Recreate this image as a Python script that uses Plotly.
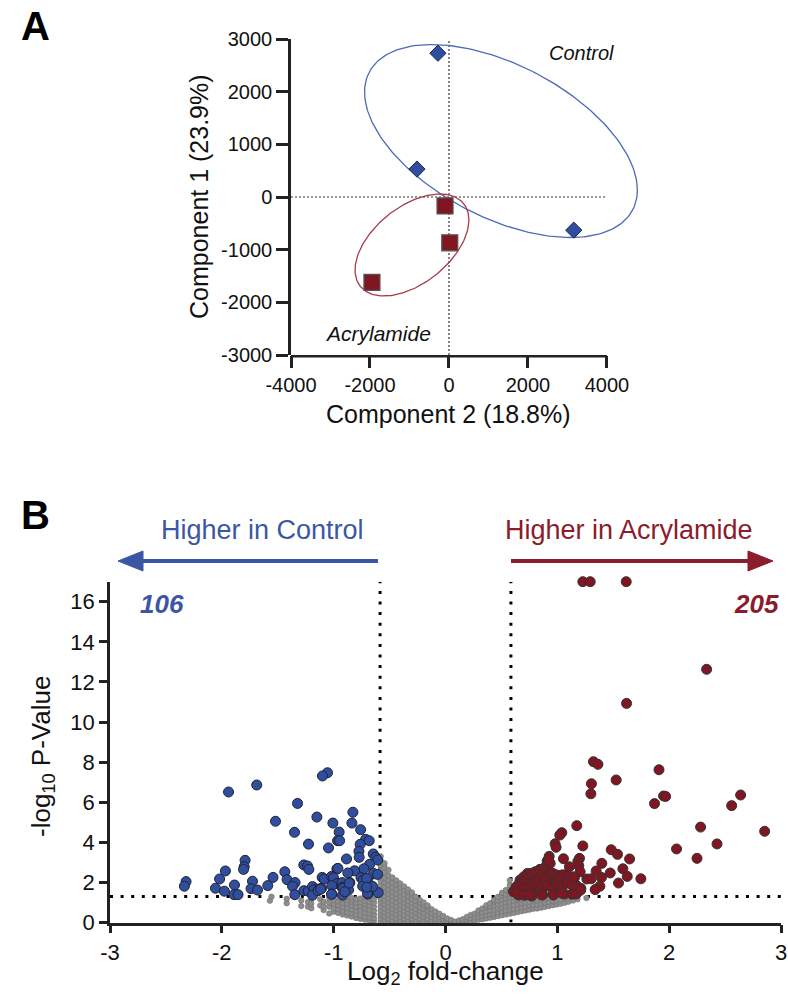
import numpy as np
import plotly.graph_objects as go

W, H = 788, 997
FONT = "Liberation Sans, Arial, sans-serif"
def px(x): return x / W
def py(y): return 1 - y / H

# ---------------- Panel A data (PCA scores) ----------------
ctrl_pc2 = [-280, -810, 3160]
ctrl_pc1 = [2730, 530, -630]
acr_pc2 = [-100, 20, -1950]
acr_pc1 = [-170, -870, -1620]
pca_xticks = [-4000, -2000, 0, 2000, 4000]
pca_yticks = [-3000, -2000, -1000, 0, 1000, 2000, 3000]
# group ellipses: centre, half extents, correlation
ctrl_ellipse = dict(cx=1316, cy=1063, ax=3454, ay=1832, rho=-0.508)
acr_ellipse = dict(cx=-937, cy=-911, ax=1442, ay=968, rho=0.49)

# ---------------- Panel B data (volcano) ----------------
blue_x = [-1.055, -1.10, -1.688, -1.94, -1.323, -0.828, -1.15, -1.52, -1.007, -0.837,
          -1.35, -0.951, -0.759, -1.225, -0.965, -0.947, -0.714, -0.682, -0.763, -1.046,
          -0.774, -0.646, -0.772, -0.625, -0.607, -0.885, -0.679, -1.792, -1.80, -1.806,
          -1.267, -1.234, -1.222, -0.971, -0.962, -0.73, -0.813, -0.873, -0.643, -0.607,
          -1.968, -1.437, -2.02, -1.542, -1.417, -2.32, -2.335, -1.726, -1.345, -1.368,
          -1.103, -1.085, -1.019, -1.001, -0.971, -0.924, -0.855, -0.756, -0.736, -0.697,
          -1.016, -0.924, -0.876, -0.867, -0.741, -1.267, -1.228, -1.189, -1.175, -1.13,
          -1.108, -1.347, -1.189, -1.016, -0.920, -0.694, -2.057, -1.977, -1.887, -1.891,
          -1.855, -1.739, -1.681, -1.589, -0.697, -0.602, -1.019, -0.915, -0.90, -0.861,
          -0.705, -0.652, -0.705, -1.139, -1.117]
blue_y = [7.47, 7.31, 6.86, 6.51, 5.94, 5.50, 5.26, 5.05, 4.96, 4.96,
          4.50, 4.51, 4.63, 3.91, 4.08, 4.08, 4.15, 4.08, 3.90, 3.72,
          3.55, 3.42, 3.25, 3.25, 3.12, 3.17, 2.90, 3.10, 2.78, 2.65,
          2.87, 2.82, 2.65, 2.67, 2.70, 2.68, 2.58, 2.47, 2.45, 2.40,
          2.57, 2.53, 2.17, 2.25, 2.14, 2.04, 1.81, 2.06, 1.99, 1.81,
          2.25, 2.17, 2.30, 2.23, 1.94, 1.99, 1.99, 2.24, 2.12, 2.10,
          1.84, 1.74, 1.71, 1.62, 1.81, 1.59, 1.57, 1.79, 1.64, 1.67,
          1.71, 1.39, 1.36, 1.42, 1.37, 1.42, 1.71, 1.56, 1.87, 1.39,
          1.39, 1.69, 1.62, 1.84, 1.46, 1.49, 1.41, 1.71, 1.54, 1.96,
          2.20, 1.79, 1.76, 1.59, 1.66]

red_x = [1.228, 1.294, 1.616, 2.335, 1.619, 1.323, 1.363, 1.909, 1.526, 1.305,
         1.30, 1.95, 1.968, 2.639, 1.869, 2.559, 1.174, 2.281, 2.854, 1.04,
         1.022, 1.228, 0.980, 0.989, 2.428, 2.066, 1.482, 1.538, 1.646, 2.249,
         0.927, 0.909, 1.055, 1.198, 1.184, 1.398, 1.108, 1.192, 0.843, 0.903,
         0.915, 1.204, 1.347, 1.586, 1.473, 1.395, 1.625, 1.747, 1.547, 1.264,
         1.303, 1.381, 1.338, 0.733, 0.70, 0.667, 0.786, 0.816, 0.757, 0.712,
         0.90, 0.951, 0.960, 1.04, 1.07, 1.094, 1.153, 0.936, 0.996, 1.04,
         0.876, 0.831, 0.757, 0.631, 0.661, 0.607, 0.652, 0.712, 0.772, 0.870,
         0.965, 1.004, 1.064, 1.13, 1.166, 1.174, 1.21,
         0.637, 0.667, 0.697, 0.727, 0.742, 0.772, 0.801, 0.846, 0.876, 0.906,
         0.936, 0.921, 0.703, 0.757, 0.786, 0.816, 0.846, 0.870, 0.891, 0.936,
         0.960, 0.996, 1.025, 1.055, 1.100, 1.144, 0.861, 0.906, 0.951, 0.996,
         1.040, 1.085, 1.130, 1.174, 0.637, 0.697, 0.757, 0.861, 0.965, 1.040,
         1.130, 1.168, 1.210]
red_y = [17.0, 17.0, 17.0, 12.63, 10.93, 8.02, 7.89, 7.62, 7.11, 6.92,
         6.42, 6.31, 6.29, 6.36, 5.93, 5.83, 4.83, 4.76, 4.55, 4.48,
         4.36, 3.82, 3.93, 3.75, 3.92, 3.67, 3.63, 3.40, 3.17, 3.20,
         3.30, 3.07, 3.18, 3.20, 3.05, 2.95, 2.78, 2.83, 2.65, 2.68,
         2.83, 2.53, 2.57, 2.68, 2.47, 2.25, 2.30, 2.18, 1.97, 2.17,
         2.18, 1.81, 1.64, 2.45, 2.28, 2.12, 2.37, 2.20, 2.04, 1.91,
         2.37, 2.45, 2.12, 2.37, 2.37, 2.28, 2.25, 1.96, 2.04, 1.87,
         1.76, 1.59, 1.76, 1.76, 1.96, 1.54, 1.37, 1.37, 1.32, 1.39,
         1.41, 1.59, 1.42, 1.42, 1.87, 1.46, 1.71,
         1.79, 1.92, 2.04, 2.20, 2.37, 2.45, 2.53, 2.62, 2.70, 2.82,
         2.95, 3.12, 1.71, 1.79, 1.96, 2.12, 2.28, 2.37, 2.20, 2.37,
         2.45, 2.37, 2.28, 2.37, 2.28, 2.28, 1.79, 1.87, 1.71, 1.87,
         1.79, 1.96, 1.87, 1.79, 1.46, 1.37, 1.37, 1.37, 1.37, 1.46,
         1.42, 1.42, 1.62]

# non-significant proteins, read column by column: (log2 FC, [-log10 p ...])
gray_columns = [
    (-1.57, [1.09]), (-1.556, [1.29]), (-1.42, [0.96, 1.18]), (-1.29, [0.82, 1.10]),
    (-1.23, [0.79, 1.02]), (-1.20, [0.71, 0.95, 1.20]), (-1.12, [0.85, 1.16]),
    (-1.09, [0.62, 0.80, 1.04]), (-1.04, [0.45, 0.79, 1.00, 1.22]),
    (-1.00, [0.54, 0.70, 0.92, 1.12]), (-0.96, [0.48, 0.66, 0.87, 1.05, 1.25]),
    (-0.92, [0.40, 0.58, 0.78, 0.98, 1.18]), (-0.88, [0.35, 0.52, 0.72, 0.96, 1.12, 1.28]),
    (-0.84, [0.30, 0.48, 0.66, 0.86, 1.04, 1.22]), (-0.80, [0.22, 0.40, 0.58, 0.79, 0.98, 1.16]),
    (-0.76, [0.18, 0.36, 0.62, 0.82, 1.00, 1.20]), (-0.72, [0.14, 0.30, 0.50, 0.70, 0.92, 1.10, 1.26]),
    (-0.68, [0.10, 0.26, 0.44, 0.64, 0.84, 1.04, 1.22]),
    (-0.64, [0.08, 0.22, 0.40, 0.58, 0.78, 0.98, 1.16, 1.34, 1.60, 1.90, 2.30]),
    (-0.58, [0.05, 0.22, 0.40, 0.60, 0.80, 1.00, 1.20, 1.42, 1.64, 1.86, 2.10, 2.35, 2.60, 2.85, 3.10, 3.30]),
    (-0.545, [0.12, 0.30, 0.50, 0.70, 0.90, 1.10, 1.32, 1.54, 1.76, 2.00, 2.24, 2.48, 2.75, 2.95]),
    (-0.51, [0.04, 0.20, 0.40, 0.60, 0.80, 1.00, 1.20, 1.42, 1.64, 1.88, 2.10, 2.34, 2.62]),
    (-0.475, [0.10, 0.30, 0.50, 0.70, 0.90, 1.10, 1.32, 1.54, 1.76, 1.98, 2.25]),
    (-0.44, [0.02, 0.20, 0.40, 0.60, 0.80, 1.00, 1.22, 1.44, 1.66, 1.90, 2.10]),
    (-0.405, [0.08, 0.28, 0.48, 0.68, 0.88, 1.08, 1.30, 1.52, 1.76, 1.95]),
    (-0.37, [0.02, 0.18, 0.38, 0.58, 0.78, 0.98, 1.18, 1.40, 1.62, 1.80]),
    (-0.335, [0.08, 0.28, 0.48, 0.68, 0.88, 1.08, 1.30, 1.52, 1.65]),
    (-0.30, [0.02, 0.18, 0.38, 0.58, 0.78, 0.98, 1.18, 1.38, 1.50]),
    (-0.265, [0.08, 0.28, 0.48, 0.68, 0.88, 1.08, 1.28]),
    (-0.23, [0.02, 0.18, 0.38, 0.58, 0.78, 0.98, 1.12]),
    (-0.195, [0.08, 0.28, 0.48, 0.68, 0.88, 1.00]),
    (-0.16, [0.02, 0.18, 0.38, 0.58, 0.78, 0.85]),
    (-0.125, [0.08, 0.28, 0.48, 0.66]), (-0.09, [0.02, 0.18, 0.38, 0.55]),
    (-0.055, [0.08, 0.26, 0.44]), (-0.02, [0.02, 0.16, 0.32]), (0.015, [0.06, 0.20]),
    (0.05, [0.02, 0.12]), (0.085, [0.04]), (0.12, [0.02, 0.10]), (0.155, [0.04, 0.16]),
    (0.19, [0.02, 0.14, 0.28]), (0.225, [0.08, 0.22, 0.38]), (0.26, [0.10, 0.26, 0.44]),
    (0.295, [0.14, 0.30, 0.48, 0.60]), (0.33, [0.16, 0.34, 0.52, 0.70]),
    (0.365, [0.20, 0.38, 0.56, 0.76, 0.86]), (0.40, [0.24, 0.42, 0.60, 0.80, 0.96]),
    (0.435, [0.28, 0.46, 0.64, 0.84, 1.04, 1.12]), (0.47, [0.32, 0.50, 0.70, 0.90, 1.10, 1.28]),
    (0.505, [0.36, 0.55, 0.75, 0.95, 1.15, 1.35, 1.48]),
    (0.54, [0.40, 0.60, 0.80, 1.00, 1.20, 1.40, 1.62]),
    (0.575, [0.44, 0.64, 0.84, 1.04, 1.24, 1.44, 1.66, 1.86, 2.10]),
    (0.61, [0.48, 0.68, 0.88, 1.08, 1.26]), (0.645, [0.52, 0.72, 0.92, 1.12, 1.28]),
    (0.68, [0.56, 0.76, 0.96, 1.16]), (0.715, [0.60, 0.80, 1.00, 1.20]),
    (0.75, [0.64, 0.84, 1.04, 1.24]), (0.785, [0.68, 0.88, 1.08, 1.26]),
    (0.82, [0.70, 0.90, 1.10, 1.28]), (0.855, [0.74, 0.94, 1.14]), (0.89, [0.78, 0.98, 1.18]),
    (0.925, [0.82, 1.02, 1.22]), (0.96, [0.86, 1.06, 1.24]), (0.995, [0.90, 1.10]),
    (1.03, [0.94, 1.14]), (1.065, [0.98, 1.18]), (1.10, [1.04, 1.22]), (1.14, [1.10]),
    (1.18, [1.16]), (1.26, [1.22]),
]
gray_x = [c for c, ys in gray_columns for _ in ys]
gray_y = [v for c, ys in gray_columns for v in ys]

fc_cut = 0.585      # log2(1.5)
p_cut = 1.301       # -log10(0.05)
volc_xticks = [-3, -2, -1, 0, 1, 2, 3]
volc_yticks = [0, 2, 4, 6, 8, 10, 12, 14, 16]
n_control, n_acryl = 106, 205

# ---------------- colours ----------------
BLUE = "#2F4E9E"
RED = "#7F1621"
BLUE_T = "#3C56A6"
RED_T = "#8A1C2B"
AX = "#222222"

def ellipse(e, n=240):
    t = np.linspace(0, 2 * np.pi, n)
    phi = np.arccos(e["rho"])
    return e["cx"] + e["ax"] * np.cos(t), e["cy"] + e["ay"] * np.cos(t - phi)

fig = go.Figure()
ex, ey = ellipse(ctrl_ellipse)
fig.add_trace(go.Scatter(x=ex, y=ey, mode="lines", line=dict(color="#4A6CB6", width=1.3),
                         xaxis="x", yaxis="y", hoverinfo="skip"))
ex, ey = ellipse(acr_ellipse)
fig.add_trace(go.Scatter(x=ex, y=ey, mode="lines", line=dict(color="#A83B47", width=1.3),
                         xaxis="x", yaxis="y", hoverinfo="skip"))
fig.add_trace(go.Scatter(x=ctrl_pc2, y=ctrl_pc1, mode="markers", xaxis="x", yaxis="y",
                         marker=dict(symbol="diamond", size=12.5, color=BLUE,
                                     line=dict(color="#1C2850", width=1))))
fig.add_trace(go.Scatter(x=acr_pc2, y=acr_pc1, mode="markers", xaxis="x", yaxis="y",
                         marker=dict(symbol="square", size=16, color=RED,
                                     line=dict(color="#555555", width=1.2))))

fig.add_trace(go.Scatter(x=gray_x, y=gray_y, mode="markers", xaxis="x2", yaxis="y2",
                         cliponaxis=False,
                         marker=dict(size=5.5, color="#8E8E8E", line=dict(color="#6E6E6E", width=0.6))))
fig.add_trace(go.Scatter(x=blue_x, y=blue_y, mode="markers", xaxis="x2", yaxis="y2",
                         cliponaxis=False,
                         marker=dict(size=10, color=BLUE, line=dict(color="#222233", width=1))))
fig.add_trace(go.Scatter(x=red_x, y=red_y, mode="markers", xaxis="x2", yaxis="y2",
                         cliponaxis=False,
                         marker=dict(size=10, color=RED, line=dict(color="#333333", width=1))))

A_bottom = 1 - 355 / H
shapes = [
    # panel A zero lines
    dict(type="line", xref="x", yref="y", x0=pca_xticks[0], x1=pca_xticks[-1], y0=0, y1=0,
         line=dict(color="#333", width=1.2, dash="2px,2px"), layer="below"),
    dict(type="line", xref="x", yref="y", x0=0, x1=0, y0=pca_yticks[0], y1=pca_yticks[-1],
         line=dict(color="#333", width=1.2, dash="2px,2px"), layer="below"),
    # panel A x axis line (stops at 4000)
    dict(type="line", xref="x", yref="paper", x0=pca_xticks[0], x1=pca_xticks[-1],
         y0=A_bottom - 1.25 / H, y1=A_bottom - 1.25 / H, line=dict(color=AX, width=2.5)),
    # panel B thresholds
    dict(type="line", xref="x2", yref="y2", x0=-fc_cut, x1=-fc_cut, y0=0, y1=17,
         line=dict(color="black", width=3, dash="3px,7.6px"), layer="below"),
    dict(type="line", xref="x2", yref="y2", x0=fc_cut, x1=fc_cut, y0=0, y1=17,
         line=dict(color="black", width=3, dash="3px,7.6px"), layer="below"),
    dict(type="line", xref="x2", yref="y2", x0=-3, x1=3, y0=p_cut, y1=p_cut,
         line=dict(color="black", width=3, dash="3px,7.6px"), layer="below"),
    # arrows
    dict(type="line", xref="paper", yref="paper", x0=px(378), x1=px(138), y0=py(561), y1=py(561),
         line=dict(color=BLUE_T, width=4)),
    dict(type="path", xref="paper", yref="paper",
         path=f"M {px(118)} {py(561)} L {px(143)} {py(551)} L {px(143)} {py(571)} Z",
         fillcolor=BLUE_T, line=dict(color=BLUE_T, width=1)),
    dict(type="line", xref="paper", yref="paper", x0=px(511), x1=px(753), y0=py(561), y1=py(561),
         line=dict(color=RED_T, width=4)),
    dict(type="path", xref="paper", yref="paper",
         path=f"M {px(773)} {py(561)} L {px(748)} {py(551)} L {px(748)} {py(571)} Z",
         fillcolor=RED_T, line=dict(color=RED_T, width=1)),
]

def ann(text, x, y, size, color="#111", angle=0, xanchor="center"):
    return dict(text=text, x=px(x), y=py(y), xref="paper", yref="paper", showarrow=False,
                xanchor=xanchor, yanchor="middle", textangle=angle,
                font=dict(family=FONT, size=size, color=color))

annotations = [
    ann("<b>A</b>", 35, 26, 40, "#000"),
    ann("<b>B</b>", 35, 515, 40, "#000"),
    ann("<i>Control</i>", 581, 53, 20),
    ann("<i>Acrylamide</i>", 378, 334, 21),
    ann("Component 2 (18.8%)", 449, 414, 25),
    ann("Component 1 (23.9%)", 199, 197, 25, angle=-90),
    ann("Higher in Control", 262.5, 530, 27, BLUE_T),
    ann("Higher in Acrylamide", 629, 530, 27, RED_T),
    ann(f"<b><i>{n_control}</i></b>", 162, 604, 26, BLUE_T),
    ann(f"<b><i>{n_acryl}</i></b>", 756, 604, 26, RED_T),
    ann("Log<sub>2</sub> fold-change", 445, 972, 26),
    ann("-log<sub>10</sub> P-Value", 42, 757, 26, angle=-90),
]

tick_common = dict(ticks="outside", tickwidth=2.5, tickcolor=AX, showgrid=False, zeroline=False,
                   automargin=False, tickfont=dict(family=FONT, size=20, color="#111"))

fig.update_layout(
    width=W, height=H, margin=dict(l=0, r=0, t=0, b=0, pad=0, autoexpand=False),
    paper_bgcolor="white", plot_bgcolor="white", showlegend=False,
    font=dict(family=FONT),
    xaxis=dict(domain=[291 / W, 642.5 / W], range=[-4000, 4900], anchor="y",
               tickvals=pca_xticks, ticktext=[str(v) for v in pca_xticks],
               ticklen=12, showline=False, **tick_common),
    yaxis=dict(domain=[1 - 355 / H, 1 - 39 / H], range=[-3000, 3000], anchor="x",
               tickvals=pca_yticks, ticktext=[str(v) for v in pca_yticks],
               ticklen=12, showline=True, linewidth=2.5, linecolor=AX, **tick_common),
    xaxis2=dict(domain=[110 / W, 781 / W], range=[-3, 3], anchor="y2",
                tickvals=volc_xticks, ticktext=[str(v) for v in volc_xticks],
                ticklen=8, showline=True, linewidth=2.5, linecolor=AX, **tick_common),
    yaxis2=dict(domain=[1 - 922.5 / H, 1 - 581.7 / H], range=[0, 17], anchor="x2",
                tickvals=volc_yticks, ticktext=[str(v) for v in volc_yticks],
                ticklen=8, showline=True, linewidth=2.5, linecolor=AX, **tick_common),
    shapes=shapes, annotations=annotations,
)
fig.update_xaxes(tickfont_size=22, selector=dict(anchor="y2"))
fig.update_yaxes(tickfont_size=22, selector=dict(anchor="x2"))

fig.write_html("out.html", config={"displayModeBar": False},
               post_script="document.body.style.margin='0px';document.body.style.overflow='hidden';")
